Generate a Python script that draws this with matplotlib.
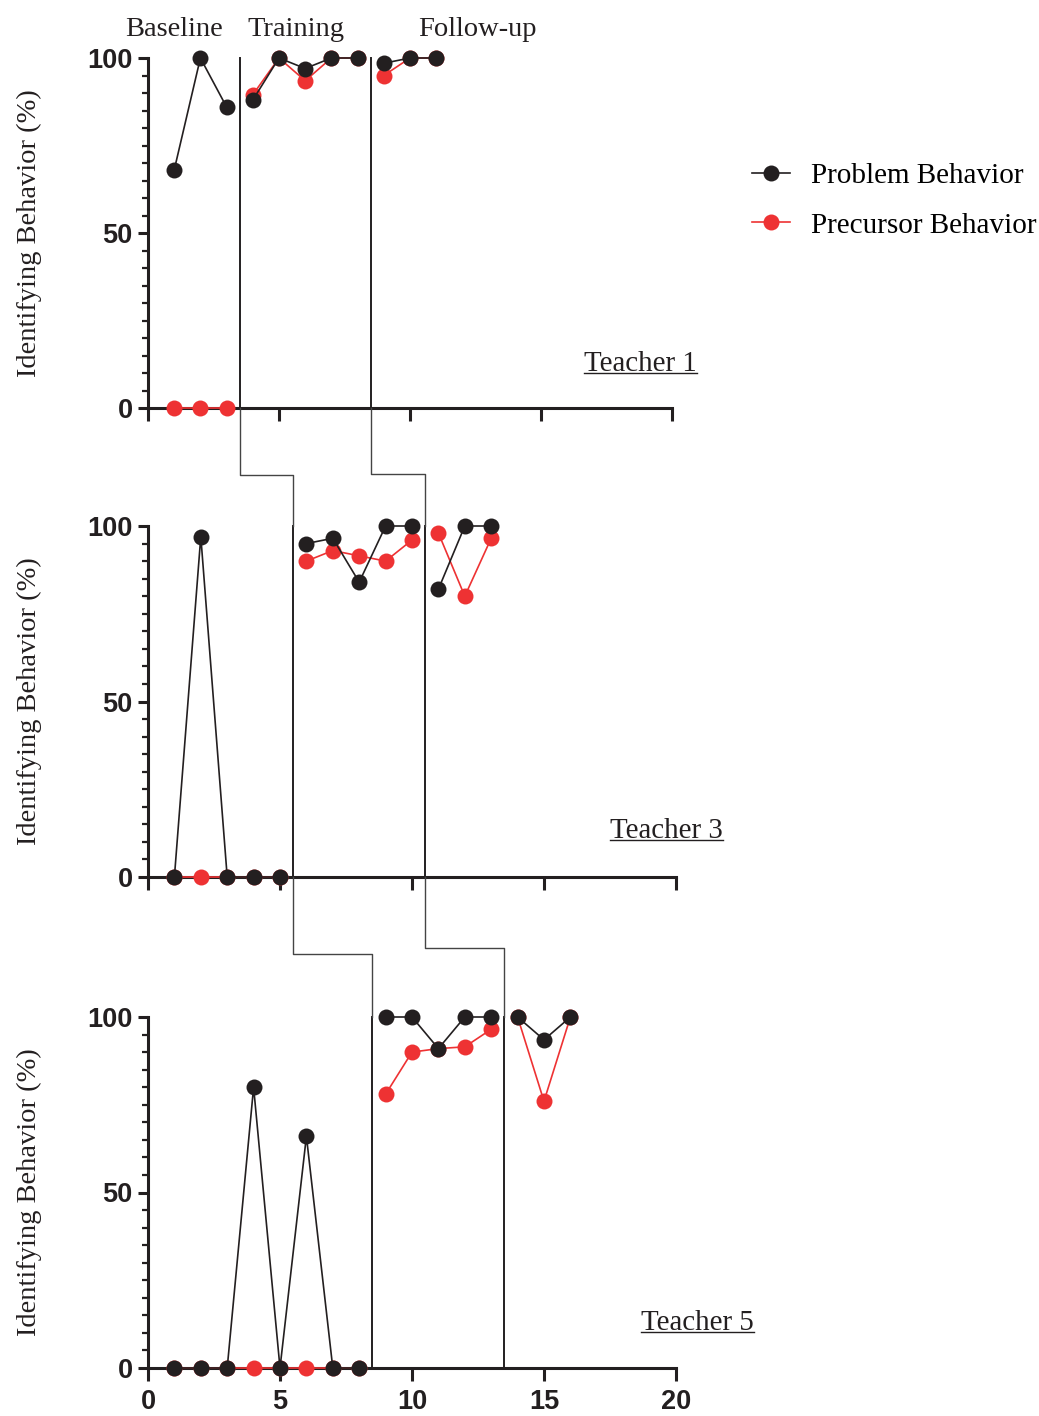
import numpy as np
import matplotlib
matplotlib.use('Agg')
import matplotlib.pyplot as plt
from matplotlib.lines import Line2D

# Donnees
sessions_t1 = [1, 2, 3, 4, 5, 6, 7, 8, 9, 10, 11]
problem_t1 = [68, 100, 86, 88, 100, 97, 100, 100, 98.5, 100, 100]
precursor_t1 = [0, 0, 0, 89.5, 100, 93.5, 100, 100, 95, 100, 100]
phases_t1 = [3.5, 8.5]

sessions_t3 = [1, 2, 3, 4, 5, 6, 7, 8, 9, 10, 11, 12, 13]
problem_t3 = [0, 97, 0, 0, 0, 95, 96.5, 84, 100, 100, 82, 100, 100]
precursor_t3 = [0, 0, 0, 0, 0, 90, 93, 91.5, 90, 96, 98, 80, 96.5]
phases_t3 = [5.5, 10.5]

sessions_t5 = [1, 2, 3, 4, 5, 6, 7, 8, 9, 10, 11, 12, 13, 14, 15, 16]
problem_t5 = [0, 0, 0, 80, 0, 66, 0, 0, 100, 100, 91, 100, 100, 100, 93.5, 100]
precursor_t5 = [0, 0, 0, 0, 0, 0, 0, 0, 78, 90, 91, 91.5, 96.5, 100, 76, 100]
phases_t5 = [8.5, 13.5]

teachers = ['Teacher 1', 'Teacher 3', 'Teacher 5']
phase_names = ['Baseline', 'Training', 'Follow-up']
x_ticks = [0, 5, 10, 15, 20]
y_ticks = [0, 50, 100]

BLACK = '#231f20'
RED = '#ee3233'
SERIF = 'Liberation Serif'
SANS = 'Liberation Sans'

W, H = 1039, 1416
fig = plt.figure(figsize=(W / 100, H / 100), dpi=100)


def px_ax(x0, x1, ytop, ybot):
    return fig.add_axes([x0 / W, 1 - ybot / H, (x1 - x0) / W, (ybot - ytop) / H])


ax1 = px_ax(148, 672, 58, 408)
ax2 = px_ax(148, 676, 526, 877)
ax3 = px_ax(148, 676, 1017, 1368)
axes = [ax1, ax2, ax3]

panels = [
    (sessions_t1, problem_t1, precursor_t1, phases_t1),
    (sessions_t3, problem_t3, precursor_t3, phases_t3),
    (sessions_t5, problem_t5, precursor_t5, phases_t5),
]


def plot_by_phase(ax, x, y, phases, color, z):
    x = np.array(x, dtype=float)
    y = np.array(y, dtype=float)
    bounds = [-np.inf] + list(phases) + [np.inf]
    for lo, hi in zip(bounds[:-1], bounds[1:]):
        m = (x > lo) & (x < hi)
        ax.plot(x[m], y[m], color=color, lw=1.2, marker='o', ms=11.5,
                markeredgewidth=0, clip_on=False, zorder=z)


for i, (ax, (s, pb, pc, ph)) in enumerate(zip(axes, panels)):
    plot_by_phase(ax, s, pc, ph, RED, 5)
    plot_by_phase(ax, s, pb, ph, BLACK, 6)
    for p in ph:
        ax.plot([p, p], [0, 100], color=BLACK, lw=1.4, clip_on=False, zorder=3)

    ax.set_xlim(0, 20)
    ax.set_ylim(0, 100)
    ax.set_xticks(x_ticks)
    ax.set_yticks(y_ticks)
    ax.set_yticks(np.arange(0, 101, 5), minor=True)
    ax.spines['top'].set_visible(False)
    ax.spines['right'].set_visible(False)
    for sp in ['left', 'bottom']:
        ax.spines[sp].set_linewidth(2.2)
        ax.spines[sp].set_color(BLACK)
    ax.tick_params(axis='y', which='major', length=7, width=2.2, color=BLACK,
                   labelsize=19.5, pad=4)
    ax.tick_params(axis='y', which='minor', length=4, width=1.6, color=BLACK)
    ax.tick_params(axis='x', which='major', length=9, width=2.2, color=BLACK,
                   labelsize=19.5, pad=6)
    for lab in ax.get_yticklabels() + ax.get_xticklabels():
        lab.set_fontfamily(SANS)
        lab.set_fontweight('bold')
        lab.set_color(BLACK)
    if i < 2:
        ax.set_xticklabels([])
    ax.set_ylabel('Identifying Behavior (%)', fontfamily=SERIF, fontsize=20.5,
                  color=BLACK, labelpad=33)
    ax.set_facecolor('none')

# Etiquettes des phases
for name, xp in zip(phase_names, [174, 296, 477]):
    fig.text(xp / W, 1 - 29 / H, name, ha='center', va='center',
             fontfamily=SERIF, fontsize=20.5, color=BLACK)

# Etiquettes des enseignants
teacher_pos = [(16.64, 12.7), (17.5, 13.0), (18.67, 12.7)]
teacher_texts = []
for ax, name, (tx, ty) in zip(axes, teachers, teacher_pos):
    t = ax.text(tx, ty, name, ha='left', va='center', fontfamily=SERIF,
                fontsize=20.8, color=BLACK)
    teacher_texts.append(t)

# Legende
handles = [
    Line2D([], [], color=BLACK, lw=1.2, marker='o', ms=11.5, markeredgewidth=0),
    Line2D([], [], color=RED, lw=1.2, marker='o', ms=11.5, markeredgewidth=0),
]
fig.legend(handles, ['Problem Behavior', 'Precursor Behavior'],
           loc='upper left', bbox_to_anchor=(752 / W, 1 - 163 / H),
           frameon=False, prop={'family': SERIF, 'size': 21},
           handlelength=1.3, handletextpad=0.72, labelspacing=0.78,
           borderpad=0, borderaxespad=0)

fig.canvas.draw()
renderer = fig.canvas.get_renderer()
inv = fig.transFigure.inverted()

# Soulignement des noms
for t in teacher_texts:
    bb = t.get_window_extent(renderer)
    y = bb.y0 + 4
    p0 = inv.transform((bb.x0, y))
    p1 = inv.transform((bb.x1, y))
    fig.add_artist(Line2D([p0[0], p1[0]], [p0[1], p1[1]], color=BLACK,
                          lw=1.0, transform=fig.transFigure))


def fpt(ax, x, y):
    return inv.transform(ax.transData.transform((x, y)))


# Lignes de changement de phase entre les panneaux
connector_y = [(475, 954), (474, 948)]
for k, (ya, yb) in enumerate(connector_y):
    xa, xb, xc = phases_t1[k], phases_t3[k], phases_t5[k]
    a_bot = fpt(ax1, xa, 0)
    b_top = fpt(ax2, xb, 100)
    b_bot = fpt(ax2, xb, 0)
    c_bot = fpt(ax3, xc, 0)
    fa = 1 - ya / H
    fb = 1 - yb / H
    xs = [a_bot[0], a_bot[0], b_bot[0], b_bot[0]]
    ys = [a_bot[1], fa, fa, b_top[1]]
    fig.add_artist(Line2D(xs, ys, color='#444444', lw=1.0,
                          transform=fig.transFigure))
    c_top = fpt(ax3, xc, 100)
    xs = [b_bot[0], b_bot[0], c_bot[0], c_bot[0]]
    ys = [b_bot[1], fb, fb, c_top[1]]
    fig.add_artist(Line2D(xs, ys, color='#444444', lw=1.0,
                          transform=fig.transFigure))

fig.savefig('out.png', dpi=100)
